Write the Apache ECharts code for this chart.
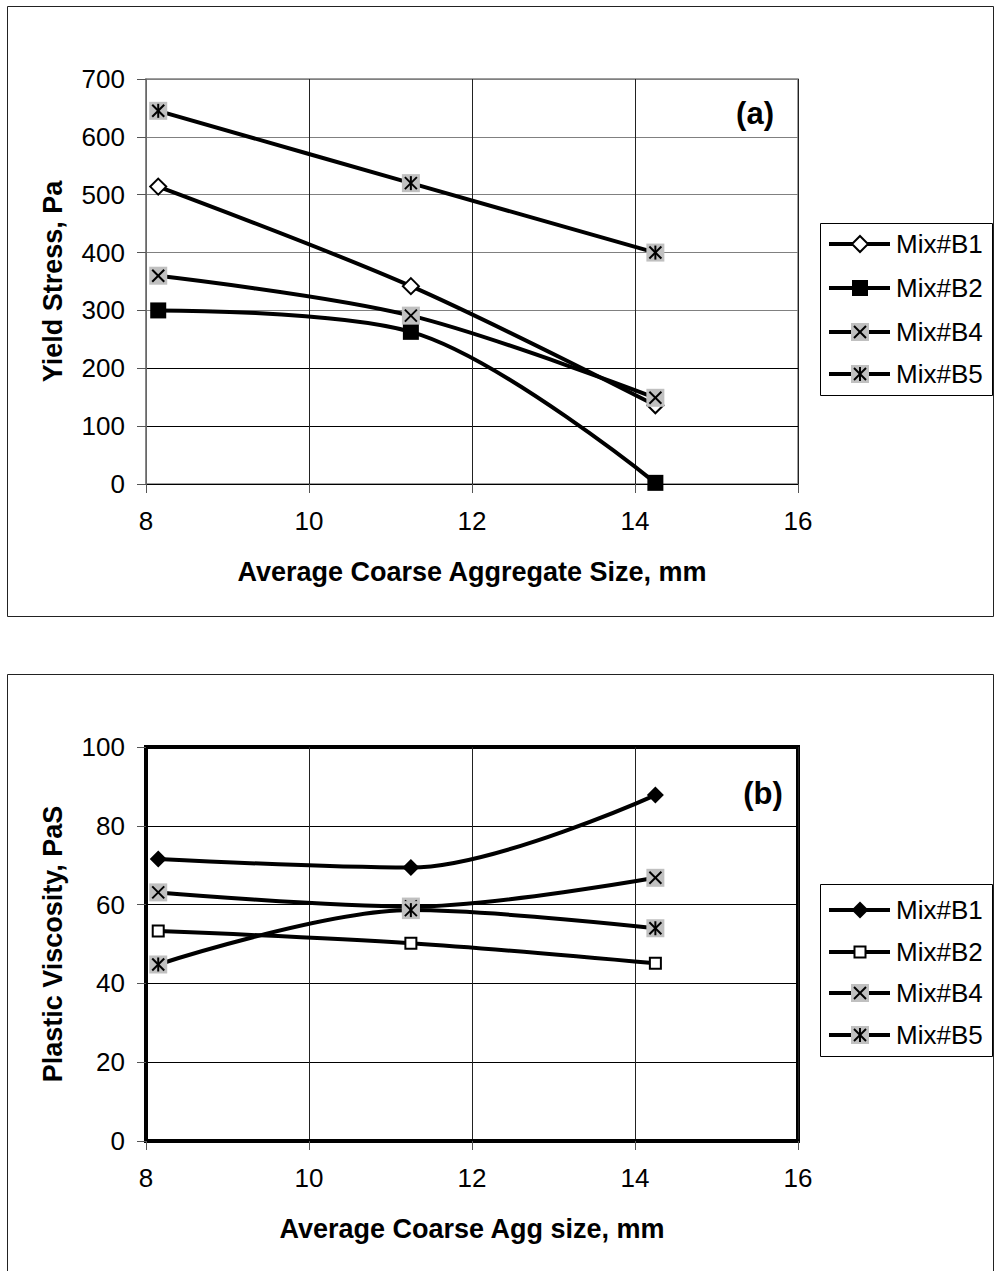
<!DOCTYPE html>
<html>
<head>
<meta charset="utf-8">
<script src="https://cdn.jsdelivr.net/npm/echarts@6/dist/echarts.min.js"></script>
<style>
  html, body { margin: 0; padding: 0; background: #fff; }
  #chart { width: 994px; height: 1271px; }
</style>
</head>
<body>
<div id="chart"></div>
<script>
// Average coarse aggregate size (mm) for the three mixes tested
const aggSizes = [8.15, 11.25, 14.25];

// (a) Yield stress, Pa
const yieldB1 = [514, 342, 136];
const yieldB2 = [300, 263, 2];
const yieldB4 = [360, 291, 149];
const yieldB5 = [645, 520, 400];

// (b) Plastic viscosity, PaS
const viscB1 = [71.6, 69.4, 87.8];
const viscB2 = [53.3, 50.2, 45.1];
const viscB4 = [63.1, 59.5, 66.8];
const viscB5 = [44.8, 58.6, 54.0];

const mixNames = ['Mix#B1', 'Mix#B2', 'Mix#B4', 'Mix#B5'];
const xTicks = { min: 8, max: 16, step: 2 };
const yieldTicks = { min: 0, max: 700, step: 100 };
const viscTicks = { min: 0, max: 100, step: 20 };

const FONT = "'Liberation Sans', Arial, Helvetica, sans-serif";
const GRAY = '#c0c0c0';

// Marker shapes, drawn around a centre point
function markerShapes(kind, cx, cy) {
  const out = [];
  const diamond = (r, fill, stroke) => ({
    type: 'polygon',
    shape: { points: [[cx, cy - r], [cx + r, cy], [cx, cy + r], [cx - r, cy]] },
    style: { fill: fill, stroke: stroke, lineWidth: stroke ? 2 : 0 }
  });
  if (kind === 'diamondOpen') out.push(diamond(8, '#fff', '#000'));
  if (kind === 'diamondFilled') out.push(diamond(8.5, '#000', null));
  if (kind === 'squareFilled') out.push({ type: 'rect', shape: { x: cx - 8, y: cy - 8, width: 16, height: 16 }, style: { fill: '#000' } });
  if (kind === 'squareOpen') out.push({ type: 'rect', shape: { x: cx - 5.5, y: cy - 5.5, width: 11, height: 11 }, style: { fill: '#fff', stroke: '#000', lineWidth: 2 } });
  if (kind === 'xBox' || kind === 'starBox') {
    out.push({ type: 'rect', shape: { x: cx - 9, y: cy - 9, width: 18, height: 18 }, style: { fill: GRAY } });
    const a = 6;
    out.push({ type: 'line', shape: { x1: cx - a, y1: cy - a, x2: cx + a, y2: cy + a }, style: { stroke: '#000', lineWidth: 2 } });
    out.push({ type: 'line', shape: { x1: cx - a, y1: cy + a, x2: cx + a, y2: cy - a }, style: { stroke: '#000', lineWidth: 2 } });
    if (kind === 'starBox') {
      out.push({ type: 'line', shape: { x1: cx, y1: cy - 7, x2: cx, y2: cy + 7 }, style: { stroke: '#000', lineWidth: 2 } });
    }
  }
  return out;
}

const pairs = (ys) => aggSizes.map((x, i) => [x, ys[i]]);

const panelA = [yieldB1, yieldB2, yieldB4, yieldB5];
const panelB = [viscB1, viscB2, viscB4, viscB5];
const kindsA = ['diamondOpen', 'squareFilled', 'xBox', 'starBox'];
const kindsB = ['diamondFilled', 'squareOpen', 'xBox', 'starBox'];

const series = [];
function addPanel(values, kinds, axisIdx) {
  values.forEach((ys, i) => {
    series.push({
      type: 'line',
      name: mixNames[i] + (axisIdx ? ' (b)' : ' (a)'),
      xAxisIndex: axisIdx, yAxisIndex: axisIdx,
      data: pairs(ys),
      smooth: 0.33,
      symbol: 'none',
      lineStyle: { color: '#000', width: 4 },
      z: 3,
      silent: true,
      animation: false
    });
  });
  values.forEach((ys, i) => {
    series.push({
      type: 'custom',
      xAxisIndex: axisIdx, yAxisIndex: axisIdx,
      data: pairs(ys),
      z: 4,
      silent: true,
      animation: false,
      renderItem: (params, api) => {
        const p = api.coord([api.value(0), api.value(1)]);
        return { type: 'group', children: markerShapes(kinds[i], p[0], p[1]) };
      }
    });
  });
}
addPanel(panelA, kindsA, 0);
addPanel(panelB, kindsB, 1);

// Legend boxes drawn as graphics so each key can show its two-tone marker
function legendGraphic(top, rowYs, kinds) {
  const children = [{
    type: 'rect', shape: { x: 820.5, y: top + 0.5, width: 172, height: 172 },
    style: { fill: '#fff', stroke: '#000', lineWidth: 1 }
  }];
  rowYs.forEach((y, i) => {
    children.push({ type: 'line', shape: { x1: 829, y1: y, x2: 890, y2: y }, style: { stroke: '#000', lineWidth: 4 } });
    markerShapes(kinds[i], 860, y).forEach(s => children.push(s));
    children.push({
      type: 'text', x: 896, y: y,
      style: { text: mixNames[i], font: '26px ' + FONT, fill: '#000', textVerticalAlign: 'middle', textAlign: 'left' }
    });
  });
  return { type: 'group', children: children };
}

function xAxisCfg(idx, name, lineW) {
  return {
    gridIndex: idx, type: 'value',
    min: xTicks.min, max: xTicks.max, interval: xTicks.step,
    axisLine: { show: true, onZero: false, lineStyle: { color: '#000', width: lineW } },
    axisTick: { show: true, length: 9, lineStyle: { color: '#555', width: 1 } },
    axisLabel: { color: '#000', fontSize: 26, fontFamily: FONT, margin: 24 },
    splitLine: { show: true, lineStyle: { color: '#222', width: 1 } },
    name: name, nameLocation: 'middle', nameGap: 74,
    nameTextStyle: { color: '#000', fontSize: 27, fontWeight: 'bold', fontFamily: FONT }
  };
}
function yAxisCfg(idx, ticks, name, lineColor, lineW, splitColors) {
  return {
    gridIndex: idx, type: 'value',
    min: ticks.min, max: ticks.max, interval: ticks.step,
    axisLine: { show: true, lineStyle: { color: lineColor, width: lineW } },
    axisTick: { show: true, length: 9, lineStyle: { color: '#555', width: 1 } },
    axisLabel: { color: '#000', fontSize: 26, fontFamily: FONT, margin: 21 },
    splitLine: { show: true, lineStyle: { color: splitColors, width: 1 } },
    name: name, nameLocation: 'middle', nameGap: 80,
    nameTextStyle: { color: '#000', fontSize: 27, fontWeight: 'bold', fontFamily: FONT }
  };
}

const chart = echarts.init(document.getElementById('chart'), null, { renderer: 'svg', width: 994, height: 1271 });
chart.setOption({
  backgroundColor: '#fff',
  animation: false,
  grid: [
    { left: 146, top: 79, width: 652, height: 405, show: true, borderColor: '#808080', borderWidth: 1.5, backgroundColor: 'transparent' },
    { left: 146, top: 747, width: 652, height: 394, show: true, borderColor: '#000', borderWidth: 4, backgroundColor: 'transparent' }
  ],
  xAxis: [
    xAxisCfg(0, 'Average Coarse Aggregate Size, mm', 1),
    xAxisCfg(1, 'Average Coarse Agg size, mm', 4)
  ],
  yAxis: [
    yAxisCfg(0, yieldTicks, 'Yield Stress, Pa', '#808080', 1.5,
      ['#000', '#000', '#000', '#808080', '#808080', '#808080', '#808080', '#808080']),
    yAxisCfg(1, viscTicks, 'Plastic Viscosity, PaS', '#000', 4, ['#000'])
  ],
  series: series,
  graphic: [
    // chart frames
    { type: 'rect', z: -10, shape: { x: 7.5, y: 6.5, width: 986, height: 610 }, style: { fill: 'none', stroke: '#222', lineWidth: 1 } },
    { type: 'rect', z: -10, shape: { x: 7.5, y: 674.5, width: 986, height: 620 }, style: { fill: 'none', stroke: '#222', lineWidth: 1 } },
    // panel tags
    { type: 'text', x: 755, y: 113, z: 10, style: { text: '(a)', font: 'bold 31px ' + FONT, fill: '#000', textAlign: 'center', textVerticalAlign: 'middle' } },
    { type: 'text', x: 763, y: 793, z: 10, style: { text: '(b)', font: 'bold 31px ' + FONT, fill: '#000', textAlign: 'center', textVerticalAlign: 'middle' } },
    legendGraphic(223, [244, 288, 332, 374], kindsA),
    legendGraphic(884, [910, 952, 993, 1035], kindsB)
  ]
});
</script>
</body>
</html>
